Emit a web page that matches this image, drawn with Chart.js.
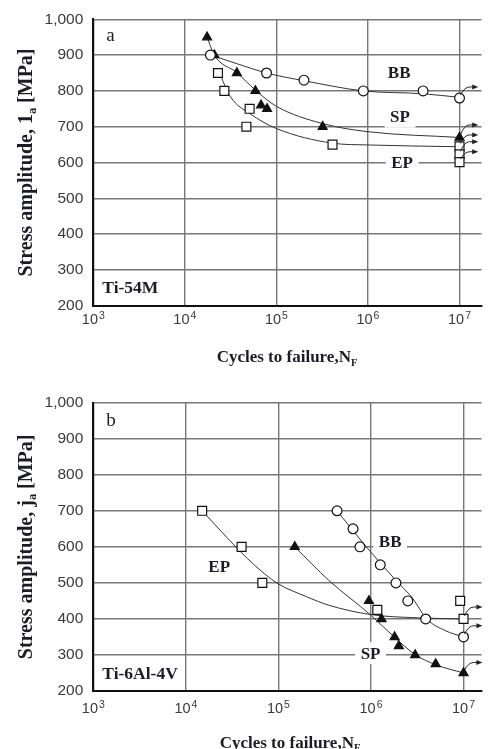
<!DOCTYPE html>
<html>
<head>
<meta charset="utf-8">
<script src="https://cdn.jsdelivr.net/npm/chart.js@4.4.0/dist/chart.umd.min.js"></script>
<style>
  html, body { margin: 0; padding: 0; background: #fff; }
  #wrap { position: relative; width: 489px; height: 749px; overflow: hidden; }
  canvas { position: absolute; left: 0; }
  #chart_a { top: 0; }
  #chart_b { top: 375px; }
</style>
</head>
<body>
<div id="wrap">
  <canvas id="chart_a" width="489" height="375"></canvas>
  <canvas id="chart_b" width="489" height="374"></canvas>
</div>
<script>
// axis ticks, same for both panels (x labels are 10 raised to a power)
const x_tick_values = [1e3, 1e4, 1e5, 1e6, 1e7];
const x_tick_bases = ['10', '10', '10', '10', '10'];
const x_tick_powers = ['3', '4', '5', '6', '7'];
const y_tick_values = [200, 300, 400, 500, 600, 700, 800, 900, 1000];
const y_tick_labels = ['200', '300', '400', '500', '600', '700', '800', '900', '1,000'];

// panel a: Ti-54M, measured points
const bb_cycles_a = [1.9e4, 7.8e4, 2.0e5, 8.9e5, 4.0e6, 1.0e7];
const bb_stress_a = [900, 850, 830, 800, 800, 780];
const sp_cycles_a = [1.75e4, 2.1e4, 3.7e4, 5.9e4, 6.8e4, 7.9e4, 3.2e5, 1.0e7];
const sp_stress_a = [950, 900, 850, 800, 760, 750, 700, 670];
const ep_cycles_a = [2.3e4, 2.7e4, 5.1e4, 4.7e4, 4.1e5, 1.0e7, 1.0e7, 1.0e7];
const ep_stress_a = [850, 800, 750, 700, 650, 645, 623, 601];

// panel a: fitted S-N curves
const bb_fit_cycles_a = [1.93e4, 3.7e4, 7.8e4, 2.04e5, 8.9e5, 4.0e6, 1.0e7];
const bb_fit_stress_a = [900, 876, 850, 828, 800, 792, 782];
const sp_fit_cycles_a = [1.75e4, 2.1e4, 3.7e4, 5.9e4, 1.0e5, 3.16e5, 1.0e6, 1.0e7];
const sp_fit_stress_a = [950, 900, 851, 802, 757, 709, 686, 670];
const ep_fit_cycles_a = [2.34e4, 3.16e4, 5.1e4, 1.0e5, 4.1e5, 1.0e6, 1.0e7];
const ep_fit_stress_a = [855, 783, 737, 695, 654, 649, 644];

// panel a: run-outs at 10^7 (start stress, arrow stress)
const runout_from_a = [780, 670, 645, 623, 601];
const runout_to_a = [811, 705, 677, 658, 630];

// panel b: Ti-6Al-4V, measured points
const bb_cycles_b = [4.3e5, 6.4e5, 7.6e5, 1.26e6, 1.86e6, 2.5e6, 3.9e6, 1.0e7];
const bb_stress_b = [700, 650, 600, 550, 500, 450, 400, 350];
const sp_cycles_b = [1.5e5, 9.5e5, 1.3e6, 1.8e6, 2.0e6, 3.0e6, 5.0e6, 1.0e7];
const sp_stress_b = [600, 450, 400, 350, 325, 300, 275, 250];
const ep_cycles_b = [1.5e4, 4.0e4, 6.7e4, 1.17e6, 9.2e6, 1.0e7];
const ep_stress_b = [700, 600, 500, 425, 450, 400];

// panel b: fitted S-N curves
const bb_fit_cycles_b = [4.3e5, 8.9e5, 1.86e6, 2.8e6, 4.0e6, 6.3e6, 9.9e6];
const bb_fit_stress_b = [700, 600, 507, 458, 400, 368, 350];
const sp_fit_cycles_b = [1.5e5, 3.5e5, 1.0e6, 1.78e6, 3.0e6, 5.0e6, 1.0e7];
const sp_fit_stress_b = [600, 507, 410, 350, 301, 273, 250];
const ep_fit_cycles_b = [1.5e4, 2.8e4, 4.6e4, 7.1e4, 1.0e5, 2.0e5, 3.5e5, 1.0e6, 3.2e6, 1.0e7];
const ep_fit_stress_b = [700, 625, 568, 525, 497, 462, 438, 412, 403, 400];

// panel b: run-outs at 10^7
const runout_from_b = [400, 350, 250];
const runout_to_b = [433, 381, 279];

// curve names and where they sit
const names = ['BB', 'SP', 'EP'];
const name_cycles_a = [2.19e6, 2.24e6, 2.36e6];
const name_stress_a = [850, 728, 600];
const name_cycles_b = [1.61e6, 9.9e5, 2.29e4];
const name_stress_b = [614, 305, 544];

const INK = '#1c1c26';
const SERIF = '"Liberation Serif", "Times New Roman", serif';
const SANS = '"Liberation Sans", Arial, sans-serif';

function pts(xs, ys) {
  return xs.map((x, i) => ({ x: x, y: ys[i] }));
}

function fit_set(xs, ys) {
  return {
    type: 'line',
    data: pts(xs, ys),
    borderColor: '#333',
    borderWidth: 1,
    pointRadius: 0,
    fill: false,
    cubicInterpolationMode: 'monotone',
    order: 2
  };
}

function mark_set(xs, ys, style) {
  const filled = style === 'triangle';
  return {
    type: 'scatter',
    data: pts(xs, ys),
    pointStyle: style,
    pointRadius: style === 'rect' ? 6.3 : (filled ? 5.2 : 4.9),
    pointBackgroundColor: filled ? '#111' : '#fff',
    pointBorderColor: '#111',
    pointBorderWidth: 1.2,
    order: 1
  };
}

// text with one subscripted part, centred on (0,0) of the current transform
function draw_parts(ctx, parts, size) {
  const sub = size * 0.62;
  let total = 0;
  parts.forEach(p => {
    ctx.font = 'bold ' + (p.sub ? sub : size) + 'px ' + SERIF;
    p.w = ctx.measureText(p.t).width;
    total += p.w;
  });
  let x = -total / 2;
  ctx.textBaseline = 'alphabetic';
  ctx.textAlign = 'left';
  parts.forEach(p => {
    ctx.font = 'bold ' + (p.sub ? sub : size) + 'px ' + SERIF;
    ctx.fillText(p.t, x, p.sub ? size * 0.38 + size * 0.18 : size * 0.35);
    x += p.w;
  });
}

function make_panel(canvas_id, p) {
  const marks_plugin = {
    id: 'marks_' + canvas_id,
    beforeDatasetsDraw(chart) {
      const ctx = chart.ctx;
      const xs = chart.scales.x, ys = chart.scales.y;
      ctx.save();
      ctx.font = 'bold 17px ' + SERIF;
      ctx.textAlign = 'center';
      ctx.textBaseline = 'middle';
      names.forEach((n, i) => {
        const cx = xs.getPixelForValue(p.name_cycles[i]);
        const cy = ys.getPixelForValue(p.name_stress[i]);
        const w = ctx.measureText(n).width + 11;
        ctx.fillStyle = '#fff';
        ctx.fillRect(cx - w / 2, cy - 11, w, 22);
        ctx.fillStyle = INK;
        ctx.fillText(n, cx, cy + 1);
      });
      ctx.restore();
    },
    afterDatasetsDraw(chart) {
      const ctx = chart.ctx;
      const xs = chart.scales.x, ys = chart.scales.y;
      const area = chart.chartArea;
      ctx.save();
      // run-out arrows
      ctx.strokeStyle = '#222';
      ctx.fillStyle = '#222';
      ctx.lineWidth = 1;
      const x0 = xs.getPixelForValue(1e7);
      const x1 = xs.getPixelForValue(p.arrow_end);
      p.runout_from.forEach((v, i) => {
        const y0 = ys.getPixelForValue(v);
        const y1 = ys.getPixelForValue(p.runout_to[i]);
        ctx.beginPath();
        ctx.moveTo(x0 + 1, y0 - 3);
        ctx.quadraticCurveTo(x0 + 5, y1, x0 + 10, y1);
        ctx.lineTo(x1 - 4, y1);
        ctx.stroke();
        ctx.beginPath();
        ctx.moveTo(x1, y1);
        ctx.lineTo(x1 - 6, y1 - 2.5);
        ctx.lineTo(x1 - 6, y1 + 2.5);
        ctx.closePath();
        ctx.fill();
      });
      // panel letter and alloy
      ctx.fillStyle = INK;
      ctx.textAlign = 'left';
      ctx.textBaseline = 'alphabetic';
      ctx.font = '19px ' + SERIF;
      ctx.fillText(p.letter, area.left + 13, area.top + p.letter_dy);
      ctx.font = 'bold 17.5px ' + SERIF;
      ctx.fillText(p.alloy, area.left + 9, area.bottom - 12.5);
      ctx.restore();
    },
    afterDraw(chart) {
      const ctx = chart.ctx;
      const xs = chart.scales.x;
      const area = chart.chartArea;
      ctx.save();
      // decade labels with raised exponent
      ctx.fillStyle = '#3a3a3a';
      ctx.textBaseline = 'alphabetic';
      ctx.textAlign = 'left';
      const base_y = area.bottom + p.x_label_dy;
      x_tick_values.forEach((v, i) => {
        ctx.font = '14.5px ' + SANS;
        const wb = ctx.measureText(x_tick_bases[i]).width;
        ctx.font = '10.5px ' + SANS;
        const wp = ctx.measureText(x_tick_powers[i]).width;
        const left = xs.getPixelForValue(v) - (wb + wp + 1) / 2;
        ctx.font = '14.5px ' + SANS;
        ctx.fillText(x_tick_bases[i], left, base_y);
        ctx.font = '10.5px ' + SANS;
        ctx.fillText(x_tick_powers[i], left + wb + 1, base_y - 5);
      });
      ctx.restore();

      ctx.save();
      ctx.fillStyle = INK;
      ctx.translate(25, (area.top + area.bottom) / 2);
      ctx.rotate(-Math.PI / 2);
      draw_parts(ctx, [{ t: 'Stress amplitude, ' + p.sigma }, { t: 'a', sub: true }, { t: ' [MPa]' }], 20);
      ctx.restore();
      ctx.save();
      ctx.fillStyle = INK;
      ctx.translate(p.xtitle_x, p.xtitle_y);
      draw_parts(ctx, [{ t: 'Cycles to failure,N' }, { t: 'F', sub: true }], 17);
      ctx.restore();
    }
  };

  return new Chart(document.getElementById(canvas_id), {
    data: {
      datasets: [
        fit_set(p.bb_fit[0], p.bb_fit[1]),
        fit_set(p.sp_fit[0], p.sp_fit[1]),
        fit_set(p.ep_fit[0], p.ep_fit[1]),
        mark_set(p.bb[0], p.bb[1], 'circle'),
        mark_set(p.sp[0], p.sp[1], 'triangle'),
        mark_set(p.ep[0], p.ep[1], 'rect')
      ]
    },
    options: {
      responsive: false,
      animation: false,
      devicePixelRatio: 1,
      layout: { padding: { top: p.pad_top, left: 0, right: 0, bottom: 0 } },
      plugins: { legend: { display: false }, tooltip: { enabled: false } },
      scales: {
        x: {
          type: 'logarithmic',
          min: 1e3,
          max: p.x_max,
          afterBuildTicks: (scale) => { scale.ticks = x_tick_values.map(v => ({ value: v })); },
          afterFit: (scale) => { scale.height = p.x_height; },
          ticks: { display: false },
          grid: { color: '#777', lineWidth: 1.4, drawTicks: false },
          border: { color: '#111', width: 2 }
        },
        y: {
          type: 'linear',
          min: 200,
          max: 1000,
          afterFit: (scale) => { scale.width = 93.3; },
          ticks: {
            stepSize: 100,
            padding: 10,
            color: '#3a3a3a',
            font: { family: SANS, size: 15.5 },
            callback: (v) => y_tick_labels[y_tick_values.indexOf(v)]
          },
          grid: { color: '#777', lineWidth: 1.4, drawTicks: false },
          border: { color: '#111', width: 2 }
        }
      }
    },
    plugins: [marks_plugin]
  });
}

make_panel('chart_a', {
  bb: [bb_cycles_a, bb_stress_a], sp: [sp_cycles_a, sp_stress_a], ep: [ep_cycles_a, ep_stress_a],
  bb_fit: [bb_fit_cycles_a, bb_fit_stress_a], sp_fit: [sp_fit_cycles_a, sp_fit_stress_a], ep_fit: [ep_fit_cycles_a, ep_fit_stress_a],
  runout_from: runout_from_a, runout_to: runout_to_a, arrow_end: 1.6e7,
  name_cycles: name_cycles_a, name_stress: name_stress_a,
  letter: 'a', letter_dy: 22, alloy: 'Ti-54M', sigma: '1',
  pad_top: 19, x_height: 69.3, x_max: Math.pow(10, 7.24), x_label_dy: 18.3,
  xtitle_x: 287, xtitle_y: 356.5
});

make_panel('chart_b', {
  bb: [bb_cycles_b, bb_stress_b], sp: [sp_cycles_b, sp_stress_b], ep: [ep_cycles_b, ep_stress_b],
  bb_fit: [bb_fit_cycles_b, bb_fit_stress_b], sp_fit: [sp_fit_cycles_b, sp_fit_stress_b], ep_fit: [ep_fit_cycles_b, ep_fit_stress_b],
  runout_from: runout_from_b, runout_to: runout_to_b, arrow_end: 1.6e7,
  name_cycles: name_cycles_b, name_stress: name_stress_b,
  letter: 'b', letter_dy: 23.5, alloy: 'Ti-6Al-4V', sigma: 'j',
  pad_top: 27.7, x_height: 58, x_max: Math.pow(10, 7.194), x_label_dy: 21.7,
  xtitle_x: 290, xtitle_y: 366.7
});
</script>
</body>
</html>
